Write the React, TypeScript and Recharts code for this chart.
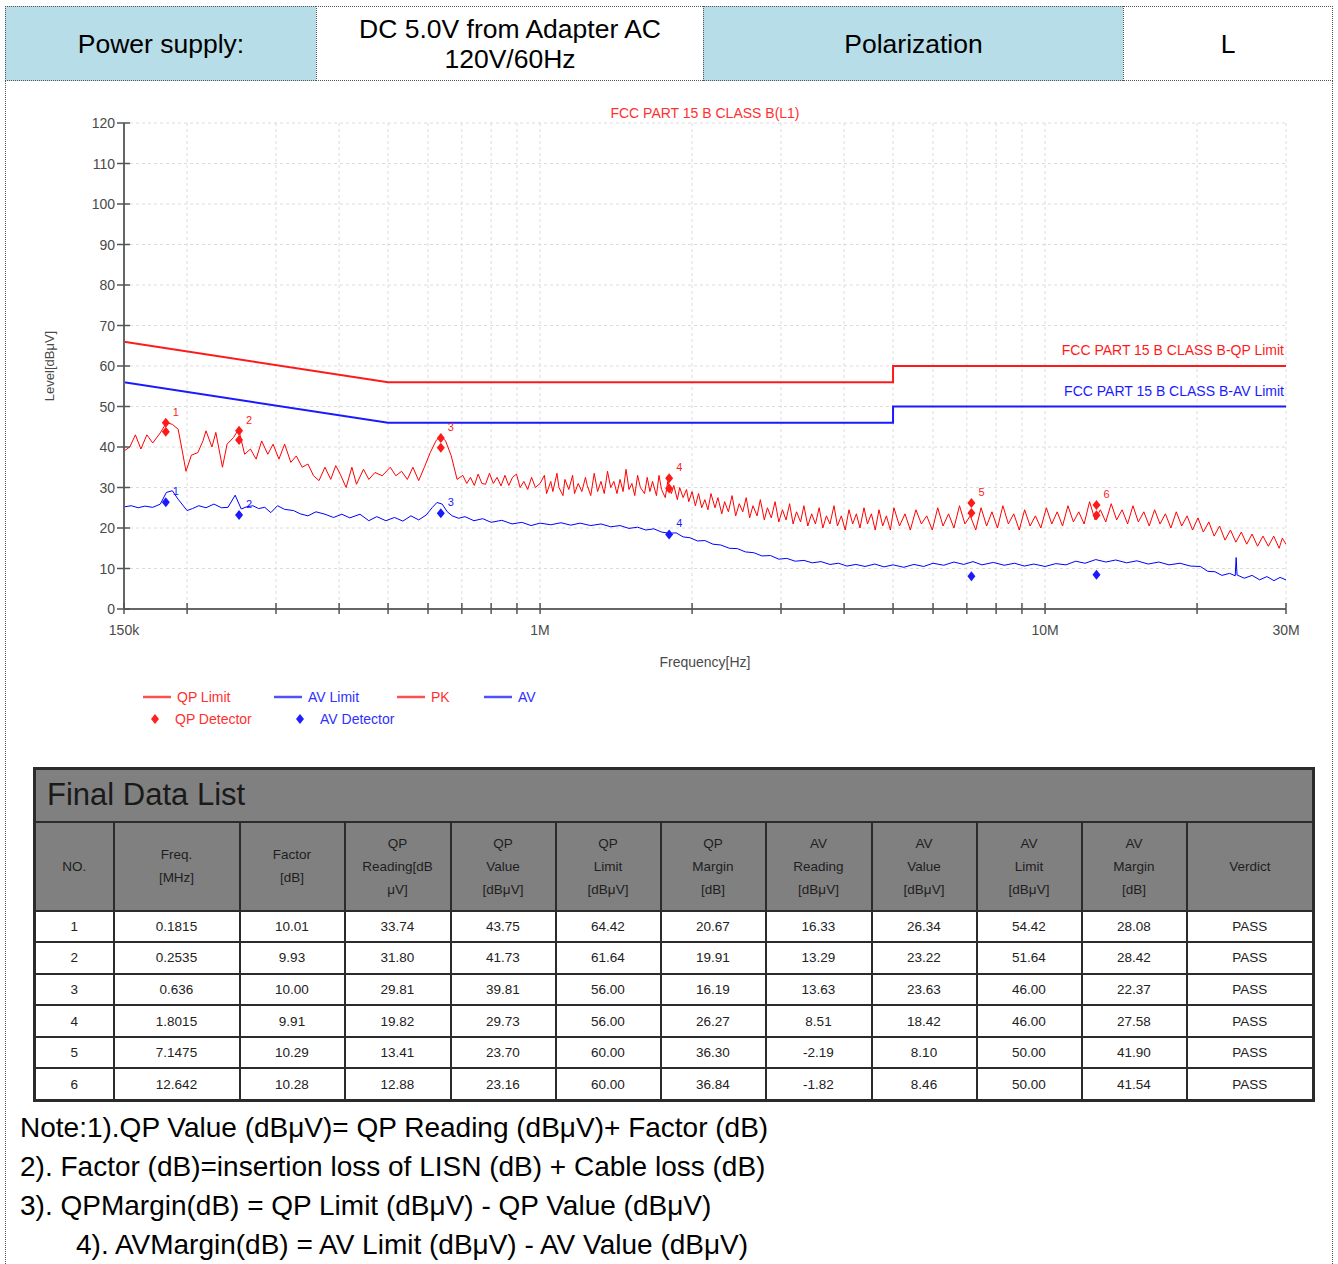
import React from 'react';
import {
  ComposedChart, Line, Scatter, XAxis, YAxis, CartesianGrid, ReferenceDot,
} from 'recharts';

// ---------- header ----------
const headerCells = ['Power supply:', 'DC 5.0V from Adapter AC\n120V/60Hz', 'Polarization', 'L'];

// ---------- axis ----------
const xTicks = [0.15, 0.2, 0.3, 0.4, 0.5, 0.6, 0.7, 0.8, 0.9, 1, 2, 3, 4, 5, 6, 7, 8, 9, 10, 20, 30];
const xTickLabels: Record<string, string> = { '0.15': '150k', '1': '1M', '10': '10M', '30': '30M' };
const yTicks = [0, 10, 20, 30, 40, 50, 60, 70, 80, 90, 100, 110, 120];

// ---------- limits (MHz, dBuV) ----------
const qpLimitLine: [number, number][] = [[0.15, 66], [0.5, 56], [5, 56], [5, 60], [30, 60]];
const avLimitLine: [number, number][] = [[0.15, 56], [0.5, 46], [5, 46], [5, 50], [30, 50]];

// ---------- PK trace ----------
const pkTrace: [number, number][] = [
  [0.150, 39], [0.154, 40], [0.158, 43], [0.162, 39.5], [0.1665, 43], [0.171, 41], [0.177, 43.5], [0.182, 46],
  [0.187, 45.6], [0.192, 44.4], [0.195, 40], [0.199, 34], [0.204, 38], [0.210, 38.6], [0.215, 41.5], [0.218, 44],
  [0.224, 40], [0.228, 43.6], [0.235, 35], [0.240, 40.7], [0.247, 42.3], [0.253, 44.4], [0.260, 38.2], [0.267, 39.5],
  [0.274, 37], [0.281, 41.5], [0.289, 38.2], [0.296, 40.7], [0.304, 37], [0.312, 40.7], [0.321, 36.2], [0.329, 37.8],
  [0.338, 35], [0.347, 35.8], [0.356, 32.9], [0.365, 31.7], [0.375, 35], [0.385, 32], [0.394, 35.4], [0.402, 33.3],
  [0.413, 30], [0.424, 35], [0.433, 30.8], [0.447, 34.5], [0.458, 32], [0.471, 33.7], [0.487, 32.9], [0.505, 35],
  [0.518, 32.9], [0.532, 34], [0.546, 32], [0.560, 35], [0.575, 31.7], [0.590, 35], [0.606, 38.6], [0.622, 41.5],
  [0.635, 42.8], [0.650, 41.5], [0.667, 37.8], [0.685, 32], [0.703, 33], [0.716, 31], [0.728, 32.5], [0.741, 30.5],
  [0.754, 33.3], [0.767, 31], [0.780, 30.8], [0.794, 33.5], [0.808, 31], [0.822, 32.5], [0.837, 30.4], [0.852, 33],
  [0.867, 30.5], [0.882, 32.5], [0.898, 33.3], [0.913, 30], [0.929, 31.5], [0.945, 29.5], [0.962, 32.5], [0.979, 30],
  [1.00, 31], [1.02, 33], [1.03, 28.5], [1.05, 31.5], [1.06, 29], [1.08, 33.5], [1.09, 30], [1.11, 28],
  [1.12, 32], [1.14, 29.5], [1.16, 33], [1.17, 28.5], [1.19, 31], [1.21, 29], [1.23, 32.5], [1.24, 30.5],
  [1.26, 28], [1.28, 33.5], [1.30, 29], [1.32, 31.5], [1.34, 28.5], [1.36, 34], [1.38, 30], [1.40, 31.5],
  [1.42, 28.5], [1.44, 32], [1.46, 29], [1.48, 34.5], [1.50, 29.5], [1.52, 31], [1.54, 28], [1.56, 33],
  [1.58, 30], [1.61, 28.5], [1.63, 32.5], [1.65, 29], [1.67, 31.5], [1.70, 28], [1.72, 33], [1.74, 29.5],
  [1.77, 27.5], [1.79, 31.5], [1.82, 28.5], [1.84, 30.5], [1.87, 27], [1.89, 30], [1.92, 27.5], [1.95, 29.5],
  [1.97, 26.5], [2.00, 29],
  [2.03, 25.5], [2.06, 28.5], [2.09, 25], [2.12, 27], [2.15, 24.5], [2.18, 28.5], [2.22, 25], [2.25, 27.5],
  [2.29, 23.5], [2.32, 26.5], [2.36, 24], [2.40, 28], [2.44, 23], [2.48, 26], [2.52, 24], [2.56, 27.5],
  [2.60, 22.5], [2.64, 25.5], [2.69, 23], [2.73, 27], [2.78, 22], [2.82, 25], [2.87, 22.5], [2.92, 26.5],
  [2.97, 21.5], [3.02, 24.5], [3.07, 22], [3.12, 26], [3.17, 21], [3.22, 24], [3.28, 21.5], [3.33, 25.5],
  [3.39, 20.5], [3.45, 23.5], [3.51, 21], [3.57, 25], [3.63, 20], [3.69, 23], [3.75, 21], [3.82, 25.5],
  [3.88, 20.5], [3.95, 23], [4.02, 19.5], [4.09, 24.5], [4.16, 21], [4.23, 23.5], [4.30, 20], [4.38, 25],
  [4.45, 21], [4.53, 23.5], [4.61, 19.5], [4.69, 24.5], [4.77, 20.5], [4.85, 23], [4.94, 19.5], [5.02, 25],
  [5.15, 20.5], [5.28, 23.5], [5.41, 19.5], [5.55, 24.5], [5.69, 21], [5.83, 23], [5.98, 19.5], [6.13, 25],
  [6.28, 20.5], [6.44, 23.5], [6.60, 20], [6.77, 25.5], [6.94, 21], [7.11, 23], [7.29, 19.5], [7.47, 25],
  [7.66, 20.5], [7.85, 24], [8.05, 20], [8.25, 25.5], [8.46, 21], [8.67, 23.5], [8.89, 19.5], [9.11, 24.5],
  [9.34, 20.5], [9.57, 23], [9.81, 20], [10.06, 25], [10.31, 21], [10.57, 24], [10.83, 20.5], [11.10, 25.5],
  [11.38, 21.5], [11.66, 24], [11.95, 21], [12.25, 26.5], [12.56, 22], [12.87, 24.5], [13.19, 21.5], [13.52, 26],
  [13.86, 22], [14.21, 24.5], [14.57, 21], [14.93, 25.5], [15.30, 21.5], [15.69, 24], [16.08, 20.5], [16.48, 24.5],
  [16.89, 21], [17.31, 23.5], [17.75, 20], [18.19, 24], [18.65, 20.5], [19.11, 23], [19.59, 19.5], [20.08, 22.5],
  [20.58, 19], [21.10, 21.5], [21.62, 18], [22.16, 20.5], [22.72, 17], [23.29, 19.5], [23.87, 16.5], [24.47, 19],
  [25.08, 16], [25.70, 18.5], [26.35, 15.5], [27.01, 18], [27.68, 15.5], [28.37, 18], [29.08, 15], [29.5, 17.5],
  [30, 16],
];

// ---------- AV trace ----------
const avTrace: [number, number][] = [
  [0.150, 25.2], [0.155, 25.5], [0.160, 25], [0.165, 25.4], [0.171, 25.1], [0.177, 25.9], [0.182, 28.8], [0.187, 29.2],
  [0.192, 27.1], [0.200, 24.3], [0.205, 24.8], [0.211, 25.5], [0.218, 25], [0.226, 25.9], [0.234, 25], [0.241, 25.1],
  [0.249, 28.1], [0.256, 24.7], [0.262, 25.2], [0.270, 25.5], [0.277, 24.8], [0.285, 25.1], [0.293, 23.8], [0.302, 25.5],
  [0.312, 24.6], [0.325, 24.3], [0.335, 23.5], [0.347, 23], [0.360, 24], [0.375, 23.4], [0.390, 22.6], [0.405, 23.4],
  [0.420, 22.5], [0.440, 23.4], [0.458, 21.8], [0.475, 22.8], [0.495, 21.8], [0.515, 22.6], [0.535, 21.7], [0.555, 23],
  [0.575, 22], [0.595, 23.2], [0.612, 25.1], [0.625, 26.3], [0.640, 25.9], [0.655, 24], [0.670, 23], [0.690, 22.4],
  [0.710, 22.8], [0.740, 21.8], [0.770, 22.3], [0.800, 21.4], [0.840, 21.9], [0.880, 21], [0.920, 21.4], [0.960, 20.6],
  [1.0, 21.2], [1.05, 20.8], [1.10, 21.3], [1.15, 20.7], [1.20, 21.2], [1.26, 20.6], [1.32, 21], [1.38, 20.3],
  [1.44, 20.6], [1.50, 19.9], [1.56, 20.2], [1.62, 19.5], [1.68, 19.8], [1.74, 19], [1.80, 18.7], [1.86, 18.8],
  [1.92, 17.8], [1.98, 17.6], [2.05, 16.8], [2.12, 16.9], [2.20, 16], [2.28, 15.8], [2.37, 15], [2.46, 14.9],
  [2.55, 14.1], [2.65, 13.9], [2.75, 13.1], [2.86, 13.2], [2.97, 12.3], [3.08, 12.5], [3.20, 11.8], [3.33, 12],
  [3.46, 11.4], [3.60, 11.7], [3.75, 11], [3.90, 11.3], [4.05, 10.6], [4.22, 11], [4.40, 10.5], [4.60, 11.1],
  [4.80, 10.4], [5.0, 10.9], [5.25, 10.3], [5.50, 11], [5.75, 10.5], [6.0, 11.3], [6.3, 10.8], [6.6, 11.6],
  [6.9, 11], [7.2, 11.7], [7.5, 10.9], [7.9, 11.5], [8.3, 10.8], [8.7, 11.3], [9.1, 10.6], [9.5, 11.1],
  [10.0, 10.5], [10.5, 11.2], [11.0, 10.9], [11.5, 11.8], [12.0, 11.3], [12.6, 12.2], [13.2, 11.6], [13.8, 12.1],
  [14.5, 11.4], [15.2, 11.9], [16.0, 11.1], [16.8, 11.6], [17.6, 10.9], [18.5, 11.3], [19.4, 10.6], [20.3, 10.5],
  [21.0, 9.3], [21.7, 9.2], [22.4, 8.3], [23.2, 8.8], [23.8, 8.2], [23.9, 12.7], [24.0, 8.4], [24.8, 7.6],
  [25.7, 8.3], [26.6, 7.2], [27.5, 8], [28.4, 7], [29.2, 7.8], [30, 7.2],
];

// ---------- final data list ----------
const tableNo = ['1', '2', '3', '4', '5', '6'];
const tableFreq = [0.1815, 0.2535, 0.636, 1.8015, 7.1475, 12.642];
const tableFreqText = ['0.1815', '0.2535', '0.636', '1.8015', '7.1475', '12.642'];
const factor = ['10.01', '9.93', '10.00', '9.91', '10.29', '10.28'];
const qpReading = ['33.74', '31.80', '29.81', '19.82', '13.41', '12.88'];
const qpValue = [43.75, 41.73, 39.81, 29.73, 23.70, 23.16];
const qpLimit = ['64.42', '61.64', '56.00', '56.00', '60.00', '60.00'];
const qpMargin = ['20.67', '19.91', '16.19', '26.27', '36.30', '36.84'];
const avReading = ['16.33', '13.29', '13.63', '8.51', '-2.19', '-1.82'];
const avValue = [26.34, 23.22, 23.63, 18.42, 8.10, 8.46];
const avLimit = ['54.42', '51.64', '46.00', '46.00', '50.00', '50.00'];
const avMargin = ['28.08', '28.42', '22.37', '27.58', '41.90', '41.54'];
const verdict = ['PASS', 'PASS', 'PASS', 'PASS', 'PASS', 'PASS'];
// peak markers
const pkMarkerLevel = [46, 44, 42.2, 32.3, 26.2, 25.7];

const columnHeads = [
  ['NO.'], ['Freq.', '[MHz]'], ['Factor', '[dB]'], ['QP', 'Reading[dB', 'μV]'], ['QP', 'Value', '[dBμV]'],
  ['QP', 'Limit', '[dBμV]'], ['QP', 'Margin', '[dB]'], ['AV', 'Reading', '[dBμV]'], ['AV', 'Value', '[dBμV]'],
  ['AV', 'Limit', '[dBμV]'], ['AV', 'Margin', '[dB]'], ['Verdict'],
];
const columnWidths = [79, 126, 105, 106, 105, 105, 105, 106, 105, 105, 105, 127];

const notes = [
  'Note:1).QP Value (dBμV)= QP Reading (dBμV)+ Factor (dB)',
  '2). Factor (dB)=insertion loss of LISN (dB) + Cable loss (dB)',
  '3). QPMargin(dB) = QP Limit (dBμV) - QP Value (dBμV)',
  '4). AVMargin(dB) = AV Limit (dBμV) - AV Value (dBμV)',
];

const toPts = (arr: [number, number][]) => arr.map(([f, v]) => ({ f, v }));
const qpLimitData = toPts(qpLimitLine);
const avLimitData = toPts(avLimitLine);
const pkData = toPts(pkTrace);
const avData = toPts(avTrace);
const qpDetData = tableFreq.map((f, i) => ({ f, v: qpValue[i], n: '' }));
const pkMarkData = tableFreq.map((f, i) => ({ f, v: pkMarkerLevel[i], n: tableNo[i] }));
const avDetData = tableFreq.map((f, i) => ({ f, v: avValue[i], n: i < 4 ? tableNo[i] : '' }));

const RED = '#ff1a1a';
const BLUE = '#1a1aff';
const AXIS_TEXT = '#4a4a4a';
const FONT = '"Liberation Sans", Arial, Helvetica, sans-serif';

const makeDiamond = (color: string) => (props: any) => {
  const { cx, cy, payload } = props;
  if (cx == null || cy == null) return <g />;
  return (
    <g>
      <polygon points={`${cx},${cy - 5} ${cx + 4},${cy} ${cx},${cy + 5} ${cx - 4},${cy}`} fill={color} />
      {payload && payload.n ? (
        <text x={cx + 7} y={cy - 7} fontSize={11} fill={color} fontFamily={FONT}>{payload.n}</text>
      ) : null}
    </g>
  );
};

const limitLabel = (text: string, color: string) => (props: any) => {
  const vb = props.viewBox || {};
  const cx = (vb.x || 0) + (vb.width || 0) / 2;
  const cy = (vb.y || 0) + (vb.height || 0) / 2;
  return (
    <text x={cx - 2} y={cy - 11} textAnchor="end" fontSize={14} fill={color} fontFamily={FONT}>{text}</text>
  );
};

const XTick = (props: any) => {
  const { x, y, payload } = props;
  const lbl = xTickLabels[String(payload.value)] || '';
  return (
    <g>
      <line x1={x} y1={y - 6} x2={x} y2={y + 5} stroke="#555" strokeWidth={1.5} />
      {lbl ? <text x={x} y={y + 26} textAnchor="middle" fontSize={14} fill={AXIS_TEXT} fontFamily={FONT}>{lbl}</text> : null}
    </g>
  );
};

const YTick = (props: any) => {
  const { x, y, payload } = props;
  return (
    <g>
      <line x1={x - 7} y1={y} x2={x + 6} y2={y} stroke="#555" strokeWidth={1.5} />
      <text x={x - 9} y={y + 5} textAnchor="end" fontSize={14} fill={AXIS_TEXT} fontFamily={FONT}>{payload.value}</text>
    </g>
  );
};

function Chart() {
  return (
    <ComposedChart width={1338} height={620} margin={{ top: 42, right: 52, left: 40, bottom: 30 }}>
      <CartesianGrid stroke="#dcdcdc" strokeDasharray="3 3" />
      <XAxis
        dataKey="f" type="number" scale="log" domain={[0.15, 30]} allowDataOverflow ticks={xTicks} interval={0}
        axisLine={{ stroke: '#666', strokeWidth: 2 }} tickLine={false} tickSize={0} tickMargin={0}
        tick={XTick} height={62}
      />
      <YAxis
        type="number" domain={[0, 120]} ticks={yTicks} interval={0} width={84}
        axisLine={{ stroke: '#666', strokeWidth: 2 }} tickLine={false} tickSize={0} tickMargin={0}
        tick={YTick}
      />
      <Line data={qpLimitData} dataKey="v" stroke={RED} strokeWidth={2} dot={false} isAnimationActive={false} />
      <Line data={avLimitData} dataKey="v" stroke={BLUE} strokeWidth={2} dot={false} isAnimationActive={false} />
      <Line data={pkData} dataKey="v" stroke="#ff0000" strokeWidth={1} dot={false} isAnimationActive={false} />
      <Line data={avData} dataKey="v" stroke="#0000ff" strokeWidth={1} dot={false} isAnimationActive={false} />
      <Scatter data={qpDetData} dataKey="v" fill={RED} shape={makeDiamond(RED)} isAnimationActive={false} />
      <Scatter data={pkMarkData} dataKey="v" fill={RED} shape={makeDiamond(RED)} isAnimationActive={false} />
      <Scatter data={avDetData} dataKey="v" fill={BLUE} shape={makeDiamond(BLUE)} isAnimationActive={false} />
      <ReferenceDot x={30} y={60} r={1} fill="none" stroke="none" ifOverflow="visible"
        label={limitLabel('FCC PART 15 B CLASS B-QP Limit', RED)} />
      <ReferenceDot x={30} y={50} r={1} fill="none" stroke="none" ifOverflow="visible"
        label={limitLabel('FCC PART 15 B CLASS B-AV Limit', BLUE)} />
    </ComposedChart>
  );
}

const LegendLine = ({ color }: { color: string }) => (
  <svg width={28} height={4} style={{ display: 'block' }}><line x1={0} y1={2} x2={28} y2={2} stroke={color} strokeWidth={2.5} /></svg>
);
const LegendDiamond = ({ color }: { color: string }) => (
  <svg width={8} height={10} style={{ display: 'block' }}><polygon points="4,0 8,5 4,10 0,5" fill={color} /></svg>
);

function ChartLegend() {
  const items = [
    { l: 143, t: 697, kind: 'line', color: '#ff5050', text: 'QP Limit', tc: '#ff3030' },
    { l: 274, t: 697, kind: 'line', color: '#5050ff', text: 'AV Limit', tc: '#3030ff' },
    { l: 397, t: 697, kind: 'line', color: '#ff5050', text: 'PK', tc: '#ff3030' },
    { l: 484, t: 697, kind: 'line', color: '#5050ff', text: 'AV', tc: '#3030ff' },
    { l: 151, t: 719, kind: 'dia', color: '#ff2020', text: 'QP Detector', tc: '#ff3030' },
    { l: 296, t: 719, kind: 'dia', color: '#2020ff', text: 'AV Detector', tc: '#3030ff' },
  ];
  return (
    <>
      {items.map((it, i) => (
        <div key={i} style={{ position: 'absolute', left: it.l, top: it.t - 9, height: 18, display: 'flex', alignItems: 'center', fontFamily: FONT, fontSize: 14, color: it.tc, whiteSpace: 'nowrap' }}>
          {it.kind === 'line' ? <LegendLine color={it.color} /> : <LegendDiamond color={it.color} />}
          <span style={{ marginLeft: it.kind === 'line' ? 6 : 16 }}>{it.text}</span>
        </div>
      ))}
    </>
  );
}

function Header() {
  const bounds = [[5, 316], [316, 703], [703, 1123], [1123, 1333]];
  const bgs = ['#b7dde8', '#ffffff', '#b7dde8', '#ffffff'];
  return (
    <>
      {headerCells.map((txt, i) => (
        <div key={i} style={{
          position: 'absolute', left: bounds[i][0], top: 6, width: bounds[i][1] - bounds[i][0], height: 75,
          boxSizing: 'border-box', background: bgs[i], borderTop: '1px dotted #555', borderBottom: '1px dotted #555',
          borderLeft: '1px dotted #555', borderRight: i === 3 ? '1px dotted #555' : 'none',
          display: 'flex', alignItems: 'center', justifyContent: 'center', textAlign: 'center',
          fontFamily: FONT, fontSize: 26.5, lineHeight: '30px', color: '#000', whiteSpace: 'pre-line',
        }}>{txt}</div>
      ))}
    </>
  );
}

function DataTable() {
  const cell: React.CSSProperties = { border: '2px solid #2b2b2b', textAlign: 'center', padding: 0, fontSize: 13.5, color: '#222' };
  const rows = tableNo.map((n, i) => [
    n, tableFreqText[i], factor[i], qpReading[i], qpValue[i].toFixed(2), qpLimit[i], qpMargin[i],
    avReading[i], avValue[i].toFixed(2), avLimit[i], avMargin[i], verdict[i],
  ]);
  return (
    <table style={{
      position: 'absolute', left: 33, top: 767, width: 1280, borderCollapse: 'collapse', tableLayout: 'fixed',
      fontFamily: FONT, border: '3px solid #2b2b2b',
    }}>
      <colgroup>{columnWidths.map((w, i) => <col key={i} style={{ width: w }} />)}</colgroup>
      <tbody>
        <tr style={{ height: 53 }}>
          <td colSpan={12} style={{ ...cell, background: '#808080', textAlign: 'left', paddingLeft: 11, fontSize: 31, color: '#1a1a1a' }}>Final Data List</td>
        </tr>
        <tr style={{ height: 89 }}>
          {columnHeads.map((h, i) => (
            <td key={i} style={{ ...cell, background: '#808080', lineHeight: '23px', fontSize: 13.5, color: '#1e1e1e' }}>
              {h.map((line, j) => <div key={j}>{line}</div>)}
            </td>
          ))}
        </tr>
        {rows.map((r, i) => (
          <tr key={i} style={{ height: 31.6 }}>
            {r.map((c, j) => <td key={j} style={cell}>{c}</td>)}
          </tr>
        ))}
      </tbody>
    </table>
  );
}

export default function App() {
  return (
    <div style={{ position: 'absolute', left: 0, top: 0, width: 1338, height: 1264, background: '#fff', overflow: 'hidden', fontFamily: FONT }}>
      <div style={{ position: 'absolute', left: 5, top: 6, width: 1328, height: 1270, boxSizing: 'border-box', borderLeft: '1px dotted #555', borderRight: '1px dotted #555' }} />
      <Header />
      <div style={{ position: 'absolute', left: 0, top: 81 }}>
        <Chart />
      </div>
      <div style={{ position: 'absolute', left: 0, width: 1410, top: 105, textAlign: 'center', fontFamily: FONT, fontSize: 14, color: '#ff3030' }}>
        FCC PART 15 B CLASS B(L1)
      </div>
      <div style={{ position: 'absolute', left: 50, top: 366, width: 0, height: 0 }}>
        <div style={{ position: 'absolute', left: -60, top: -9, width: 120, height: 18, lineHeight: '18px', textAlign: 'center', transform: 'rotate(-90deg)', fontFamily: FONT, fontSize: 13, color: AXIS_TEXT, whiteSpace: 'nowrap' }}>
          Level[dBμV]
        </div>
      </div>
      <div style={{ position: 'absolute', left: 0, width: 1410, top: 654, textAlign: 'center', fontFamily: FONT, fontSize: 14, color: AXIS_TEXT }}>
        Frequency[Hz]
      </div>
      <ChartLegend />
      <DataTable />
      <div style={{ position: 'absolute', left: 20, top: 1108, fontFamily: FONT, fontSize: 28, lineHeight: '39px', color: '#000', whiteSpace: 'nowrap' }}>
        {notes.map((t, i) => <div key={i} style={{ paddingLeft: i === 3 ? 56 : 0 }}>{t}</div>)}
      </div>
    </div>
  );
}
